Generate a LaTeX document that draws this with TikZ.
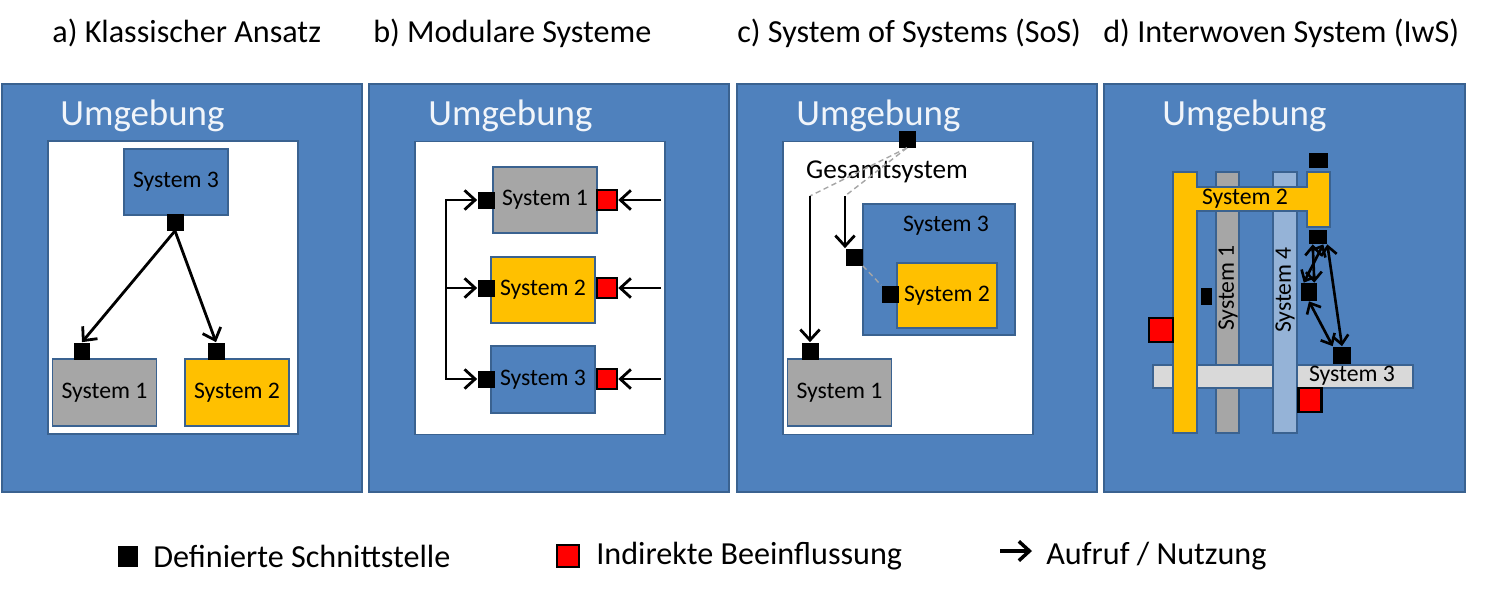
\documentclass[tikz,border=0pt]{standalone}
\usepackage{fontspec}
\setmainfont{Carlito}
\usepackage{xcolor}
\usepackage{tikz}
\usetikzlibrary{arrows.meta,positioning,calc}
\definecolor{envblue}{HTML}{4F81BD}
\definecolor{envline}{HTML}{3A6290}
\definecolor{sysgray}{HTML}{A6A6A6}
\definecolor{sysyellow}{HTML}{FFC000}
\definecolor{syslight}{HTML}{95B3D7}
\definecolor{syspale}{HTML}{D9D9D9}
\definecolor{inflred}{HTML}{FF0000}

\begin{document}
\begin{tikzpicture}[
  x=0.02cm, y=-0.02cm,
  title/.style={anchor=west, inner sep=0pt, font=\fontsize{18.3}{20}\selectfont},
  panel/.style={rectangle, draw=envline, fill=envblue, line width=1.2pt,
               minimum width=7.2cm, minimum height=8.16cm},
  umg/.style={anchor=west, inner sep=0pt, text=white!92!envblue,
              font=\fontsize{21}{23}\selectfont},
  inner/.style={rectangle, draw=envline, fill=white, line width=1pt,
               minimum width=5cm, minimum height=5.86cm},
  sys/.style={rectangle, draw=envline, fill=#1, line width=1pt,
              minimum width=2.08cm, minimum height=1.33cm,
              font=\fontsize{13.5}{15}\selectfont},
  syslabel/.style={inner sep=0pt, font=\fontsize{13.5}{15}\selectfont},
  bar/.style={rectangle, draw=envline, fill=#1, line width=1pt, inner sep=0pt},
  iface/.style={rectangle, fill=black, inner sep=0pt,
                minimum width=0.34cm, minimum height=0.34cm},
  infl/.style={rectangle, draw=black, fill=inflred, line width=1.4pt, inner sep=0pt,
               minimum width=0.4cm, minimum height=0.4cm},
  arr/.style={-{Straight Barb[length=6pt,width=11pt]}, line width=1.6pt},
  darr/.style={{Straight Barb[length=5pt,width=9pt]}-{Straight Barb[length=5pt,width=9pt]},
               line width=1.5pt},
  gline/.style={densely dashed, gray!70, line width=0.8pt},
]
\useasboundingbox (0,0) rectangle (1500,595);

% Titles
\node[title] (ta) at (52,33) {a) Klassischer Ansatz};
\node[title] (tb) at (373,33) {b) Modulare Systeme};
\node[title] (tc) at (737,33) {c) System of Systems (SoS)};
\node[title] (td) at (1103,33) {d) Interwoven System (IwS)};

% Environments
\node[panel] (pa) at (182,288) {};
\node[panel] (pb) at (549,288) {};
\node[panel] (pc) at (917,288) {};
\node[panel, minimum width=7.22cm] (pd) at (1284.5,288) {};
\node[umg] (ua) at (60,116) {Umgebung};
\node[umg] (ub) at (428,116) {Umgebung};
\node[umg] (uc) at (796,116) {Umgebung};
\node[umg] (ud) at (1162,116) {Umgebung};
\node[inner] (wa) at (173,287.5) {};
\node[inner] (wb) at (540,288) {};
\node[inner] (wc) at (908,288) {};

% a) Klassischer Ansatz
\node[sys=envblue] (a3) at (176,182) {System 3};
\node[iface] (a3i) at (175,222) {};
\node[sys=sysgray] (a1) at (104.5,392.5) {System 1};
\node[iface] (a1i) at (82,351) {};
\node[sys=sysyellow] (a2) at (237,392.5) {System 2};
\node[iface] (a2i) at (216,351) {};
\draw[arr] (a3i.south) -- (a1i.north);
\draw[arr] (a3i.south) -- (a2i.north);

% b) Modulare Systeme
\node[sys=sysgray] (b1) at (545,200) {System 1};
\node[sys=sysyellow] (b2) at (543,290) {System 2};
\node[sys=envblue] (b3) at (543,379.5) {System 3};
\foreach \i/\y in {1/200,2/288,3/379} {
  \node[iface] (bi\i) at (486,\y) {};
  \node[infl] (br\i) at (607,\y) {};
  \coordinate (bin\i) at (661,\y);
  \draw[arr] (bin\i) -- (br\i.east);
}
\coordinate (bbus) at (446,288);
\draw[arr] (bbus) |- (bi1.west);
\draw[arr] (bbus) |- (bi3.west);
\draw[arr] (bbus) -- (bi2.west);

% c) System of Systems
\node[iface] (cti) at (907,139) {};
\node[inner sep=0pt, font=\fontsize{15.5}{17}\selectfont] (cg) at (887,172) {Gesamtsystem};
\coordinate (cc1) at (810,196);
\coordinate (cc2) at (845,196);
\draw[gline] (cti.south) -- (cc1);
\draw[gline] (cti.south) -- (cc2);
\node[sys=envblue, minimum width=3.04cm, minimum height=2.62cm] (c3) at (939,269.5) {};
\node[syslabel] (c3l) at (946,226) {System 3};
\node[sys=sysyellow, minimum width=2cm, minimum height=1.3cm] (c2) at (947,295.5) {System 2};
\node[iface] (c3i) at (854,257) {};
\node[iface] (c2i) at (890,294) {};
\draw[gline] (c3i.south east) -- (c2i.north west);
\node[sys=sysgray] (c1) at (839.5,392.5) {System 1};
\node[iface] (c1i) at (810,351) {};
\draw[arr] (cc1) -- (c1i.north);
\draw[arr] (cc2) -- (cc2 |- c3i.north);

% d) Interwoven System
\node[bar=sysgray, minimum width=0.46cm, minimum height=5.22cm] (d1) at (1227.5,302.5) {};
\node[bar=syspale, minimum width=5.2cm, minimum height=0.46cm] (d3) at (1283,376.5) {};
\node[bar=syslight, minimum width=0.48cm, minimum height=5.22cm] (d4) at (1285,302.5) {};
\draw[envline, line width=1pt, fill=sysyellow]
  (1173,433) -- (1173,172) -- (1197,172) -- (1197,187) -- (1307,187) -- (1307,172)
  -- (1330,172) -- (1330,227) -- (1307,227) -- (1307,211) -- (1197,211) -- (1197,433) -- cycle;
\node[syslabel, rotate=90] (d1l) at (1228,288) {System 1};
\node[syslabel, rotate=90] (d4l) at (1285,290) {System 4};
\node[syslabel] (d2l) at (1245,199) {System 2};
\node[syslabel] (d3l) at (1352,376) {System 3};
\node[iface, minimum width=0.38cm, minimum height=0.3cm] (dt) at (1318,160) {};
\node[iface, minimum width=0.36cm, minimum height=0.28cm] (da) at (1318,237) {};
\node[iface, minimum width=0.32cm, minimum height=0.36cm] (db) at (1309,292) {};
\node[iface, minimum width=0.36cm, minimum height=0.34cm] (dc) at (1342,355) {};
\node[iface, minimum width=0.22cm, minimum height=0.34cm] (ds) at (1206,296) {};
\node[infl, minimum width=0.48cm, minimum height=0.48cm] (dr1) at (1161,330) {};
\node[infl, minimum width=0.46cm, minimum height=0.48cm] (dr2) at (1310,400) {};
\draw[darr] ([xshift=-3pt]da.south) -- ([xshift=3pt]db.north);
\draw[darr] ([xshift=3pt]da.south) -- ([xshift=-3pt]db.north);
\draw[darr] (da.south east) -- (dc.north);
\draw[darr] (db.south) -- (dc.north west);

% Legend
\node[iface, minimum width=0.4cm, minimum height=0.42cm] (lk1) at (128,556) {};
\node[title] (lt1) at (153,556) {Definierte Schnittstelle};
\node[infl, minimum width=0.44cm, minimum height=0.44cm] (lk2) at (568,556) {};
\node[title] (lt2) at (596,556) {Indirekte Beeinflussung};
\coordinate (la0) at (1000,551);
\coordinate (la1) at (1032,551);
\draw[arr, line width=2pt] (la0) -- (la1);
\node[title] (lt3) at (1046,556) {Aufruf / Nutzung};
\end{tikzpicture}
\end{document}
